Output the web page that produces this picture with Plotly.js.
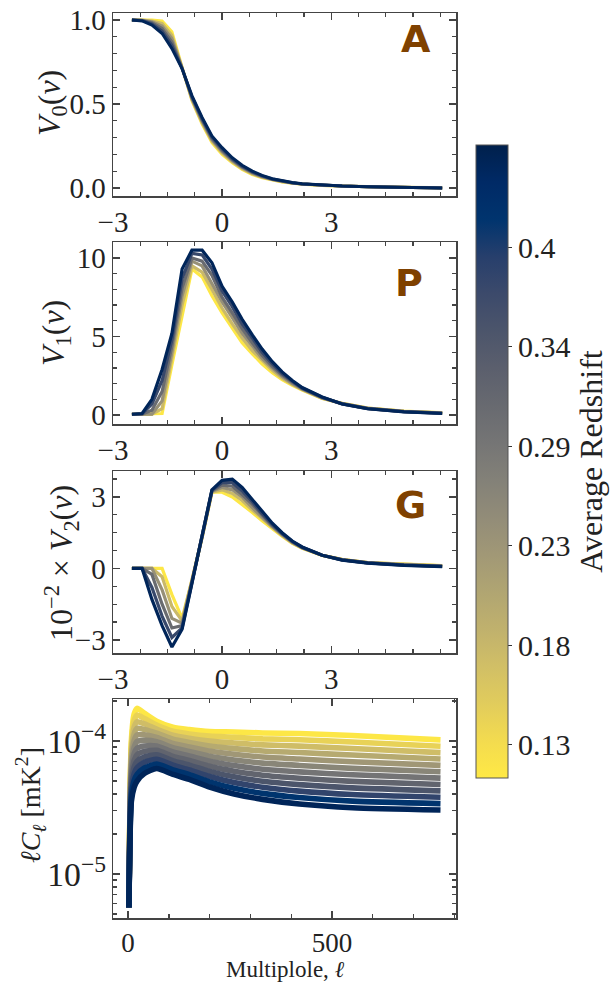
<!DOCTYPE html>
<html><head><meta charset="utf-8">
<script src="https://cdn.plot.ly/plotly-3.0.1.min.js"></script>
<style>html,body{margin:0;padding:0;background:#fff}</style>
</head><body>
<div id="chart" style="width:610px;height:984px"></div>
<script>
// ---------- data ----------
const nu = [-2.48, -2.2, -1.93, -1.65, -1.38, -1.1, -0.83, -0.55, -0.28, 0, 0.28, 0.55, 0.83, 1.1, 1.38, 1.65, 1.93, 2.2, 2.75, 3.3, 4.0, 5.0, 5.75, 6.05];
const redshiftV = [0.115, 0.181, 0.247, 0.313, 0.379, 0.445];

const v0Curves = [
  [1.0, 1.0, 1.0, 0.995, 0.93, 0.72, 0.52, 0.38, 0.27, 0.20, 0.15, 0.11, 0.08, 0.06, 0.046, 0.036, 0.028, 0.022, 0.015, 0.011, 0.007, 0.004, 0.003, 0.0],
  [1.0, 1.0, 0.995, 0.98, 0.91, 0.72, 0.526, 0.388, 0.278, 0.208, 0.156, 0.115, 0.084, 0.063, 0.048, 0.037, 0.029, 0.023, 0.015, 0.011, 0.007, 0.004, 0.003, 0.0],
  [1.0, 0.999, 0.99, 0.965, 0.89, 0.715, 0.532, 0.396, 0.286, 0.216, 0.162, 0.12, 0.088, 0.066, 0.050, 0.038, 0.030, 0.023, 0.015, 0.011, 0.007, 0.004, 0.003, 0.0],
  [1.0, 0.998, 0.985, 0.95, 0.87, 0.715, 0.538, 0.404, 0.294, 0.224, 0.168, 0.125, 0.092, 0.069, 0.051, 0.040, 0.030, 0.024, 0.016, 0.011, 0.007, 0.004, 0.003, 0.0],
  [1.0, 0.997, 0.978, 0.935, 0.85, 0.71, 0.544, 0.412, 0.302, 0.232, 0.174, 0.13, 0.096, 0.072, 0.053, 0.041, 0.031, 0.024, 0.016, 0.011, 0.007, 0.004, 0.003, 0.0],
  [1.0, 0.995, 0.97, 0.92, 0.83, 0.71, 0.55, 0.42, 0.31, 0.24, 0.18, 0.135, 0.10, 0.075, 0.055, 0.042, 0.032, 0.025, 0.016, 0.011, 0.007, 0.004, 0.003, 0.0]
];
const v1Curves = [
  [0.05, 0.05, 0.05, 0.1, 3.2, 6.4, 9.3, 8.8, 7.6, 6.5, 5.5, 4.6, 3.9, 3.25, 2.7, 2.25, 1.9, 1.6, 1.05, 0.75, 0.45, 0.25, 0.17, 0.15],
  [0.05, 0.05, 0.05, 0.4, 3.6, 7.0, 9.5, 9.1, 8.0, 6.8, 5.8, 4.9, 4.1, 3.45, 2.85, 2.35, 1.95, 1.63, 1.07, 0.74, 0.44, 0.24, 0.16, 0.14],
  [0.05, 0.05, 0.05, 0.9, 4.0, 7.6, 9.8, 9.5, 8.4, 7.2, 6.2, 5.2, 4.4, 3.6, 3.0, 2.45, 2.0, 1.66, 1.09, 0.73, 0.43, 0.23, 0.15, 0.13],
  [0.05, 0.05, 0.3, 1.5, 4.4, 8.1, 10.0, 9.8, 8.9, 7.5, 6.5, 5.5, 4.6, 3.8, 3.1, 2.55, 2.1, 1.69, 1.11, 0.72, 0.42, 0.22, 0.15, 0.12],
  [0.05, 0.08, 0.7, 2.2, 4.8, 8.7, 10.3, 10.2, 9.3, 7.9, 6.9, 5.8, 4.9, 4.0, 3.25, 2.65, 2.15, 1.72, 1.13, 0.71, 0.41, 0.21, 0.14, 0.11],
  [0.05, 0.1, 1.0, 2.9, 5.2, 9.3, 10.5, 10.5, 9.7, 8.2, 7.2, 6.1, 5.1, 4.2, 3.4, 2.75, 2.2, 1.75, 1.15, 0.7, 0.4, 0.2, 0.13, 0.1]
];
const v2Curves = [
  [0, 0, 0, 0, -1.1, -2.1, -0.5, 1.3, 3.2, 3.2, 3.0, 2.7, 2.35, 2.0, 1.65, 1.35, 1.05, 0.85, 0.55, 0.38, 0.25, 0.17, 0.14, 0.12],
  [0, 0, 0, -0.35, -1.6, -2.2, -0.53, 1.3, 3.2, 3.3, 3.15, 2.85, 2.45, 2.1, 1.7, 1.38, 1.07, 0.86, 0.55, 0.37, 0.24, 0.16, 0.13, 0.11],
  [0, 0, 0, -0.9, -2.1, -2.3, -0.56, 1.3, 3.24, 3.4, 3.3, 3.0, 2.55, 2.15, 1.75, 1.41, 1.09, 0.87, 0.55, 0.37, 0.24, 0.15, 0.12, 0.1],
  [0, 0, -0.25, -1.5, -2.5, -2.4, -0.58, 1.33, 3.26, 3.5, 3.45, 3.1, 2.7, 2.25, 1.8, 1.44, 1.11, 0.88, 0.55, 0.36, 0.23, 0.15, 0.12, 0.1],
  [0, 0, -0.8, -2.0, -2.9, -2.5, -0.6, 1.34, 3.28, 3.6, 3.6, 3.25, 2.8, 2.3, 1.85, 1.47, 1.13, 0.89, 0.55, 0.36, 0.23, 0.14, 0.11, 0.09],
  [0, 0, -1.3, -2.4, -3.3, -2.55, -0.63, 1.35, 3.3, 3.7, 3.75, 3.4, 2.9, 2.4, 1.9, 1.5, 1.15, 0.9, 0.55, 0.35, 0.22, 0.13, 0.1, 0.08]
];

const ell = [2, 8, 15, 22, 40, 70, 110, 150, 200, 260, 330, 420, 550, 766];
const redshiftCl = [0.115, 0.145, 0.175, 0.205, 0.235, 0.265, 0.295, 0.325, 0.355, 0.385, 0.415, 0.445];
const clCurves = [
  [0.56e-5, 10.0e-5, 16.0e-5, 17.6e-5, 16.2e-5, 14.1e-5, 12.7e-5, 12.2e-5, 11.8e-5, 11.7e-5, 11.5e-5, 11.4e-5, 11.0e-5, 10.2e-5],
  [0.56e-5, 9.10e-5, 14.29e-5, 15.67e-5, 14.77e-5, 13.17e-5, 11.84e-5, 11.30e-5, 10.88e-5, 10.65e-5, 10.38e-5, 10.23e-5, 9.83e-5, 9.14e-5],
  [0.56e-5, 8.29e-5, 12.72e-5, 13.96e-5, 13.44e-5, 12.29e-5, 11.05e-5, 10.49e-5, 9.98e-5, 9.66e-5, 9.35e-5, 9.15e-5, 8.78e-5, 8.18e-5],
  [0.56e-5, 7.54e-5, 11.35e-5, 12.47e-5, 12.23e-5, 11.46e-5, 10.31e-5, 9.74e-5, 9.16e-5, 8.77e-5, 8.42e-5, 8.19e-5, 7.84e-5, 7.33e-5],
  [0.56e-5, 6.86e-5, 10.11e-5, 11.12e-5, 11.13e-5, 10.65e-5, 9.59e-5, 9.03e-5, 8.40e-5, 7.95e-5, 7.58e-5, 7.32e-5, 6.99e-5, 6.56e-5],
  [0.56e-5, 6.23e-5, 9.00e-5, 9.91e-5, 10.11e-5, 9.89e-5, 8.91e-5, 8.35e-5, 7.69e-5, 7.20e-5, 6.82e-5, 6.55e-5, 6.23e-5, 5.87e-5],
  [0.56e-5, 5.67e-5, 8.03e-5, 8.85e-5, 9.19e-5, 9.18e-5, 8.27e-5, 7.72e-5, 7.05e-5, 6.54e-5, 6.14e-5, 5.86e-5, 5.57e-5, 5.26e-5],
  [0.56e-5, 5.15e-5, 7.15e-5, 7.89e-5, 8.36e-5, 8.51e-5, 7.67e-5, 7.13e-5, 6.45e-5, 5.93e-5, 5.53e-5, 5.25e-5, 4.97e-5, 4.71e-5],
  [0.56e-5, 4.69e-5, 6.38e-5, 7.04e-5, 7.60e-5, 7.88e-5, 7.10e-5, 6.59e-5, 5.91e-5, 5.38e-5, 4.98e-5, 4.70e-5, 4.44e-5, 4.22e-5],
  [0.56e-5, 4.26e-5, 5.69e-5, 6.29e-5, 6.91e-5, 7.29e-5, 6.57e-5, 6.07e-5, 5.41e-5, 4.87e-5, 4.49e-5, 4.20e-5, 3.96e-5, 3.78e-5],
  [0.56e-5, 3.87e-5, 5.06e-5, 5.60e-5, 6.27e-5, 6.72e-5, 6.06e-5, 5.59e-5, 4.93e-5, 4.41e-5, 4.04e-5, 3.76e-5, 3.53e-5, 3.38e-5],
  [0.56e-5, 3.51e-5, 4.51e-5, 5.00e-5, 5.70e-5, 6.21e-5, 5.61e-5, 5.15e-5, 4.51e-5, 4.00e-5, 3.64e-5, 3.36e-5, 3.15e-5, 3.03e-5]
];

const cbTickVals = [0.13, 0.184, 0.238, 0.292, 0.346, 0.400];
const cbTickText = ['0.13', '0.18', '0.23', '0.29', '0.34', '0.4'];
const zMin = 0.1121, zMax = 0.4554;

// ---------- styling helpers ----------
const cividis = [[0,'rgb(0,32,76)'],[0.058824,'rgb(0,42,102)'],[0.117647,'rgb(0,52,110)'],[0.176471,'rgb(39,63,108)'],[0.235294,'rgb(60,74,107)'],[0.294118,'rgb(76,85,107)'],[0.352941,'rgb(91,95,109)'],[0.411765,'rgb(104,106,112)'],[0.470588,'rgb(117,117,117)'],[0.529412,'rgb(131,129,120)'],[0.588235,'rgb(146,140,120)'],[0.647059,'rgb(161,152,118)'],[0.705882,'rgb(176,165,114)'],[0.764706,'rgb(192,177,109)'],[0.823529,'rgb(209,191,102)'],[0.882353,'rgb(225,204,92)'],[0.941176,'rgb(243,219,79)'],[1,'rgb(255,233,69)']];
function parseRgb(s){ return s.match(/\d+/g).map(Number); }
function colorFor(z){
  let t = (z - zMin) / (zMax - zMin);
  t = 1 - Math.max(0, Math.min(1, t)); // reversed scale: high z = dark blue
  for (let i = 1; i < cividis.length; i++) {
    if (t <= cividis[i][0]) {
      const a = cividis[i-1], b = cividis[i];
      const f = (t - a[0]) / (b[0] - a[0]);
      const ca = parseRgb(a[1]), cb = parseRgb(b[1]);
      const c = ca.map((v, j) => Math.round(v + f * (cb[j] - v)));
      return 'rgb(' + c.join(',') + ')';
    }
  }
  return cividis[cividis.length-1][1];
}

const traces = [];
function addFamily(xs, curves, zs, xa, ya, width, shape) {
  curves.forEach((ys, i) => {
    traces.push({x: xs, y: ys, xaxis: xa, yaxis: ya, type: 'scatter', mode: 'lines',
      line: {color: colorFor(zs[i]), width: width, shape: shape, smoothing: 0.6},
      hoverinfo: 'skip', showlegend: false});
  });
}
addFamily(nu, v0Curves, redshiftV, 'x', 'y', 3, 'linear');
addFamily(nu, v1Curves, redshiftV, 'x2', 'y2', 3.2, 'linear');
addFamily(nu, v2Curves, redshiftV, 'x3', 'y3', 3.2, 'linear');
addFamily(ell, clCurves, redshiftCl, 'x4', 'y4', 5.6, 'spline');

// colorbar carrier
traces.push({x: [0], y: [0.5], xaxis: 'x', yaxis: 'y', type: 'scatter', mode: 'markers',
  hoverinfo: 'skip', showlegend: false,
  marker: {size: 1, opacity: 0, color: [0.3], cmin: zMin, cmax: zMax, colorscale: cividis, reversescale: true,
    showscale: true,
    colorbar: {x: 476/610, xanchor: 'left', xpad: 0, y: 1 - 461.5/984, yanchor: 'middle', ypad: 0,
      len: 633, lenmode: 'pixels', thickness: 32, thicknessmode: 'pixels',
      outlinewidth: 1, outlinecolor: '#555',
      tickvals: cbTickVals, ticktext: cbTickText, ticks: 'outside', ticklen: 4, tickcolor: '#333',
      tickfont: {family: 'Liberation Serif', size: 30, color: '#222'},
      title: {text: 'Average Redshift', side: 'right', font: {family: 'Liberation Serif', size: 32, color: '#222'}}}}});

const serif = 'Liberation Serif';
const W = 610, H = 984;
const xDom = [113/W, 456/W];
function yDom(top, bottom){ return [1 - bottom/H, 1 - top/H]; }
function baseAxis(extra){
  return Object.assign({showline: true, linecolor: '#444', linewidth: 1.5, mirror: 'allticks',
    ticks: 'inside', ticklen: 7, tickwidth: 1.3, tickcolor: '#444',
    showgrid: false, zeroline: false, fixedrange: true,
    tickfont: {family: serif, size: 29, color: '#222'}}, extra);
}
const nuAxis = (anchor) => baseAxis({domain: xDom, anchor: anchor, range: [-3, 6.43],
  tickvals: [-3, 0, 3], minor: {ticks: 'inside', dtick: 0.75, tick0: 0, ticklen: 4, tickcolor: '#444'}});

const layout = {
  width: W, height: H, autosize: false,
  margin: {l: 0, r: 0, t: 0, b: 0},
  paper_bgcolor: '#fff', plot_bgcolor: '#fff',
  showlegend: false,
  xaxis: nuAxis('y'),
  yaxis: baseAxis({domain: yDom(13, 196), anchor: 'x', range: [-0.048, 1.042], tickvals: [0, 0.5, 1.0], tickformat: '.1f',
    minor: {ticks: 'inside', dtick: 0.1, ticklen: 4, tickcolor: '#444'}}),
  xaxis2: nuAxis('y2'),
  yaxis2: baseAxis({domain: yDom(242, 424), anchor: 'x2', range: [-0.57, 11.02], tickvals: [0, 5, 10],
    minor: {ticks: 'inside', dtick: 1, ticklen: 4, tickcolor: '#444'}}),
  xaxis3: nuAxis('y3'),
  yaxis3: baseAxis({domain: yDom(471, 653), anchor: 'x3', range: [-3.55, 4.09], tickvals: [-3, 0, 3],
    minor: {ticks: 'inside', dtick: 0.75, tick0: 0, ticklen: 4, tickcolor: '#444'}}),
  xaxis4: baseAxis({domain: xDom, anchor: 'y4', range: [-37, 804], tickvals: [0, 500], ticklabelstandoff: 0,
    tickfont: {family: serif, size: 27, color: '#222'},
    minor: {ticks: 'inside', dtick: 100, tick0: 0, ticklen: 4, tickcolor: '#444'}}),
  yaxis4: baseAxis({domain: yDom(699, 918), anchor: 'x4', type: 'log', range: [-5.331, -3.684],
    dtick: 1, exponentformat: 'power', ticklabelstandoff: 0,
    tickfont: {family: serif, size: 27, color: '#222'},
    minor: {ticks: 'inside', dtick: 'D1', ticklen: 4, tickcolor: '#444'}}),
  annotations: [
    {text: '<b>A</b>', x: 416/W, y: 1 - 39/H},
    {text: '<b>P</b>', x: 409/W, y: 1 - 283/H},
    {text: '<b>G</b>', x: 410/W, y: 1 - 505/H}
  ].map(a => Object.assign(a, {xref: 'paper', yref: 'paper', showarrow: false, xanchor: 'center', yanchor: 'middle',
      font: {family: 'DejaVu Sans', size: 38, color: '#7f4100'}})).concat([
    {text: '<i>V</i><sub>0</sub>(<i>ν</i>)', x: 51/W, y: 1 - 103/H, size: 32},
    {text: '<i>V</i><sub>1</sub>(<i>ν</i>)', x: 56/W, y: 1 - 333/H, size: 32},
    {text: '10<sup>−2</sup> × <i>V</i><sub>2</sub>(<i>ν</i>)', x: 61/W, y: 1 - 563/H, size: 32},
    {text: '<i>ℓC</i><sub><i>ℓ</i></sub> [mK<sup>2</sup>]', x: 30/W, y: 1 - 805/H, size: 28}
  ].map(a => ({text: a.text, x: a.x, y: a.y, xref: 'paper', yref: 'paper', showarrow: false, textangle: -90,
      xanchor: 'center', yanchor: 'middle', font: {family: serif, size: a.size, color: '#222'}})))
  .concat([{text: 'Multiplole, <i>ℓ</i>', x: 285/W, y: 1 - 969/H, xref: 'paper', yref: 'paper', showarrow: false,
      xanchor: 'center', yanchor: 'middle', font: {family: serif, size: 23, color: '#222'}}])
};

Plotly.newPlot('chart', traces, layout, {staticPlot: true, displayModeBar: false});
</script>
</body></html>
